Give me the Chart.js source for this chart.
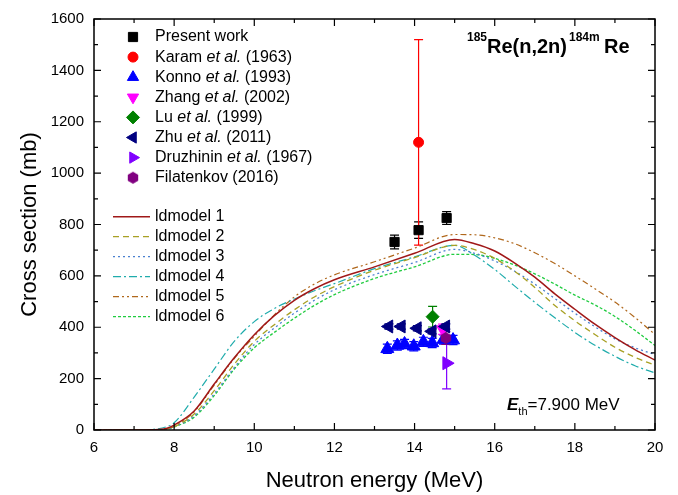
<!DOCTYPE html>
<html>
<head>
<meta charset="utf-8">
<title>185Re(n,2n)184mRe cross section</title>
<script src="https://cdn.jsdelivr.net/npm/chart.js@4.4.1/dist/chart.umd.min.js"></script>
<style>
  html, body { margin: 0; padding: 0; background: #fff; }
  #wrap { width: 678px; height: 495px; }
</style>
</head>
<body>
<div id="wrap"><canvas id="xs" width="678" height="495"></canvas></div>
<script>
const FONT = "'Liberation Sans', Arial, Helvetica, sans-serif";

// axis ticks
const xTicks = [6, 8, 10, 12, 14, 16, 18, 20];
const yTicks = [0, 200, 400, 600, 800, 1000, 1200, 1400, 1600];

// ldmodel curves (MeV, mb)
const modelEnergy = [6, 7, 7.5, 7.8, 8, 8.5, 9, 9.5, 10, 10.5, 11, 11.5, 12, 13, 14, 15, 15.5, 16, 16.5, 17, 17.5, 18, 18.5, 19, 19.5, 20];
const ldmodel1 = [0, 0, 1, 6, 19, 74, 179, 281, 371, 445, 505, 550, 585, 635, 688, 742, 725, 697, 650, 595, 530, 470, 412, 360, 313, 272];
const ldmodel2 = [0, 0, 1, 4, 13, 62, 153, 256, 345, 410, 468, 518, 558, 622, 671, 719, 702, 668, 618, 555, 485, 425, 372, 322, 283, 252];
const ldmodel3 = [0, 0, 1, 3, 12, 55, 141, 243, 333, 397, 455, 505, 546, 605, 652, 703, 688, 658, 618, 568, 512, 455, 402, 355, 320, 294];
const ldmodel4 = [0, 0, 3, 12, 28, 128, 237, 345, 422, 473, 510, 542, 570, 628, 674, 719, 680, 625, 560, 497, 437, 380, 330, 287, 250, 222];
const ldmodel5 = [0, 0, 1, 5, 14, 71, 175, 278, 365, 448, 518, 568, 604, 655, 708, 761, 760, 748, 725, 690, 648, 600, 550, 498, 438, 372];
const ldmodel6 = [0, 0, 1, 3, 12, 50, 134, 237, 320, 380, 435, 485, 527, 590, 635, 684, 683, 668, 642, 608, 568, 525, 487, 442, 388, 329];

// measurements (MeV, mb, +-mb)
const presentEnergy = [13.5, 14.1, 14.8];
const presentXs = [732, 778, 825];
const presentErr = [27, 32, 25];
const karamEnergy = [14.1];
const karamXs = [1120];
const karamErr = [400];
const konnoEnergy = [13.32, 13.57, 13.75, 13.98, 14.22, 14.44, 14.72, 14.96];
const konnoXs = [316, 329, 335, 326, 343, 339, 352, 350];
const konnoErr = [18, 18, 18, 18, 18, 18, 18, 18];
const zhangEnergy = [14.7];
const zhangXs = [392];
const zhangErr = [20];
const luEnergy = [14.45];
const luXs = [441];
const luErr = [40];
const zhuEnergy = [13.36, 13.67, 14.07, 14.44, 14.78];
const zhuXs = [403, 403, 396, 384, 403];
const zhuErr = [10, 10, 10, 10, 10];
const druzEnergy = [14.8];
const druzXs = [260];
const druzErr = [100];
const filEnergy = [14.78];
const filXs = [358];
const filErr = [25];

function pts(xs, ys) {
  return xs.map((x, i) => ({ x: x, y: ys[i] }));
}

// hexagon marker (not a built-in point style)
function hexagon(color, r) {
  const c = document.createElement('canvas');
  c.width = c.height = Math.ceil(r * 2 + 2);
  const g = c.getContext('2d');
  g.fillStyle = color;
  g.beginPath();
  for (let i = 0; i < 6; i++) {
    const a = Math.PI / 6 + i * Math.PI / 3;
    g.lineTo(c.width / 2 + r * Math.cos(a), c.height / 2 + r * Math.sin(a));
  }
  g.closePath();
  g.fill();
  return c;
}
const hexMarker = hexagon('#800080', 6);

const markerSets = [
  { label: 'Present work', e: presentEnergy, v: presentXs, err: presentErr, color: '#000000', style: 'rect', rot: 0, r: 6.5 },
  { label: 'Karam et al. (1963)', e: karamEnergy, v: karamXs, err: karamErr, color: '#ff0000', style: 'circle', rot: 0, r: 5 },
  { label: 'Konno et al. (1993)', e: konnoEnergy, v: konnoXs, err: konnoErr, color: '#0000ff', style: 'triangle', rot: 0, r: 7.5 },
  { label: 'Zhang et al. (2002)', e: zhangEnergy, v: zhangXs, err: zhangErr, color: '#ff00ff', style: 'triangle', rot: 180, r: 7 },
  { label: 'Lu et al. (1999)', e: luEnergy, v: luXs, err: luErr, color: '#008000', style: 'rectRot', rot: 0, r: 6.5 },
  { label: 'Zhu et al. (2011)', e: zhuEnergy, v: zhuXs, err: zhuErr, color: '#000080', style: 'triangle', rot: -90, r: 7.5 },
  { label: 'Druzhinin et al. (1967)', e: druzEnergy, v: druzXs, err: druzErr, color: '#8000ff', style: 'triangle', rot: 90, r: 7.5 },
  { label: 'Filatenkov (2016)', e: filEnergy, v: filXs, err: filErr, color: '#800080', style: hexMarker, rot: 0, r: 6 }
];

const modelSets = [
  { label: 'ldmodel 1', v: ldmodel1, color: '#a01818', dash: [], w: 1.5 },
  { label: 'ldmodel 2', v: ldmodel2, color: '#a8a024', dash: [6, 4], w: 1.3 },
  { label: 'ldmodel 3', v: ldmodel3, color: '#4a80d0', dash: [2, 3], w: 1.3 },
  { label: 'ldmodel 4', v: ldmodel4, color: '#20acac', dash: [8, 3, 2, 3], w: 1.2 },
  { label: 'ldmodel 5', v: ldmodel5, color: '#b0681c', dash: [6, 3, 2, 3, 2, 3], w: 1.2 },
  { label: 'ldmodel 6', v: ldmodel6, color: '#20cc40', dash: [3, 2], w: 1.3 }
];

const datasets = [];
markerSets.forEach((m, i) => {
  datasets.push({
    label: m.label,
    data: pts(m.e, m.v),
    errors: m.err,
    order: -i, // later entries on top
    pointStyle: m.style,
    rotation: m.rot,
    pointRadius: m.r,
    pointHoverRadius: m.r,
    backgroundColor: m.color,
    borderColor: m.color,
    borderWidth: 1,
    showLine: false
  });
});
modelSets.forEach(m => {
  datasets.push({
    label: m.label,
    data: pts(modelEnergy, m.v),
    order: 10,
    borderColor: m.color,
    borderWidth: m.w,
    borderDash: m.dash,
    pointRadius: 0,
    showLine: true,
    fill: false,
    cubicInterpolationMode: 'monotone'
  });
});

// vertical error bars with caps
const errorBars = {
  id: 'errorBars',
  beforeDatasetsDraw(chart) {
    const { ctx, scales: { x, y } } = chart;
    ctx.save();
    chart.data.datasets.forEach(ds => {
      if (!ds.errors) return;
      ctx.strokeStyle = ds.borderColor;
      ctx.lineWidth = 1.2;
      ds.data.forEach((p, i) => {
        const px = x.getPixelForValue(p.x);
        const top = y.getPixelForValue(p.y + ds.errors[i]);
        const bot = y.getPixelForValue(p.y - ds.errors[i]);
        ctx.beginPath();
        ctx.moveTo(px, top); ctx.lineTo(px, bot);
        ctx.moveTo(px - 4.5, top); ctx.lineTo(px + 4.5, top);
        ctx.moveTo(px - 4.5, bot); ctx.lineTo(px + 4.5, bot);
        ctx.stroke();
      });
    });
    ctx.restore();
  }
};

function richText(ctx, parts, x, y) {
  parts.forEach(p => {
    ctx.font = p.font;
    ctx.fillText(p.t, p.x !== undefined ? p.x : x, y + (p.dy || 0));
    x = (p.x !== undefined ? p.x : x) + ctx.measureText(p.t).width;
  });
}

// frame, inward ticks, axis titles, annotations, legends
const decorations = {
  id: 'decorations',
  afterDraw(chart) {
    const { ctx, chartArea: a, scales: { x, y } } = chart;
    ctx.save();
    ctx.strokeStyle = '#000';
    ctx.lineWidth = 1.5;
    ctx.strokeRect(a.left, a.top, a.right - a.left, a.bottom - a.top);

    ctx.lineWidth = 1.2;
    ctx.beginPath();
    for (let e = xTicks[0]; e <= xTicks[xTicks.length - 1]; e += 1) {
      const px = x.getPixelForValue(e);
      const len = xTicks.includes(e) ? 7 : 4;
      ctx.moveTo(px, a.bottom); ctx.lineTo(px, a.bottom - len);
      ctx.moveTo(px, a.top); ctx.lineTo(px, a.top + len);
    }
    for (let v = yTicks[0]; v <= yTicks[yTicks.length - 1]; v += 100) {
      const py = y.getPixelForValue(v);
      const len = yTicks.includes(v) ? 7 : 4;
      ctx.moveTo(a.left, py); ctx.lineTo(a.left + len, py);
      ctx.moveTo(a.right, py); ctx.lineTo(a.right - len, py);
    }
    ctx.stroke();

    ctx.fillStyle = '#000';
    ctx.textBaseline = 'alphabetic';
    // axis titles
    ctx.font = '22px ' + FONT;
    ctx.textAlign = 'center';
    ctx.fillText('Neutron energy (MeV)', (a.left + a.right) / 2, 487);
    ctx.save();
    ctx.translate(36, (a.top + a.bottom) / 2);
    ctx.rotate(-Math.PI / 2);
    ctx.fillText('Cross section (mb)', 0, 0);
    ctx.restore();

    // reaction label
    ctx.textAlign = 'left';
    richText(ctx, [
      { t: '185', font: 'bold 12px ' + FONT, dy: -12.5, x: 467 },
      { t: 'Re(n,2n)', font: 'bold 20px ' + FONT, x: 487 },
      { t: '184m', font: 'bold 12px ' + FONT, dy: -12.5, x: 569 },
      { t: 'Re', font: 'bold 20px ' + FONT, x: 604 }
    ], 467, 53);

    // threshold
    richText(ctx, [
      { t: 'E', font: 'bold italic 17px ' + FONT, x: 507 },
      { t: 'th', font: '11px ' + FONT, dy: 5 },
      { t: '=7.900 MeV', font: '17px ' + FONT }
    ], 507, 410);

    // legend: measurements
    const mx = 133, tx = 155;
    markerSets.forEach((m, i) => {
      const ly = 37 + i * 20.1;
      ctx.fillStyle = m.color;
      ctx.strokeStyle = m.color;
      ctx.lineWidth = 1;
      ctx.setLineDash([]);
      if (typeof m.style === 'string') {
        Chart.helpers.drawPoint(ctx, { pointStyle: m.style, rotation: m.rot, radius: Math.min(m.r, 6.5), borderWidth: 1 }, mx, ly);
      } else {
        ctx.drawImage(m.style, mx - m.style.width / 2, ly - m.style.height / 2);
      }
      ctx.fillStyle = '#000';
      ctx.textBaseline = 'middle';
      const parts = m.label.split('et al.');
      if (parts.length === 2) {
        richText(ctx, [
          { t: parts[0], font: '16px ' + FONT },
          { t: 'et al.', font: 'italic 16px ' + FONT },
          { t: parts[1], font: '16px ' + FONT }
        ], tx, ly);
      } else {
        ctx.font = '16px ' + FONT;
        ctx.fillText(m.label, tx, ly);
      }
    });

    // legend: models
    modelSets.forEach((m, i) => {
      const ly = 216.7 + i * 20;
      ctx.strokeStyle = m.color;
      ctx.lineWidth = m.w;
      ctx.setLineDash(m.dash);
      ctx.beginPath();
      ctx.moveTo(113, ly); ctx.lineTo(150, ly);
      ctx.stroke();
      ctx.setLineDash([]);
      ctx.fillStyle = '#000';
      ctx.font = '16px ' + FONT;
      ctx.textBaseline = 'middle';
      ctx.fillText(m.label, tx, ly);
    });
    ctx.restore();
  }
};

new Chart(document.getElementById('xs'), {
  type: 'scatter',
  data: { datasets: datasets },
  options: {
    responsive: false,
    animation: false,
    devicePixelRatio: 1,
    layout: { padding: { left: 0, right: 23, top: 13, bottom: 0 } },
    scales: {
      x: {
        type: 'linear',
        min: 6,
        max: 20,
        afterBuildTicks: s => { s.ticks = xTicks.map(v => ({ value: v })); },
        afterFit: s => { s.height = 65; },
        grid: { display: false, drawTicks: false },
        border: { display: false },
        ticks: { color: '#000', padding: 9, font: { family: FONT, size: 15 }, callback: v => String(v) }
      },
      y: {
        type: 'linear',
        min: 0,
        max: 1600,
        afterBuildTicks: s => { s.ticks = yTicks.map(v => ({ value: v })); },
        afterFit: s => { s.width = 94; },
        grid: { display: false, drawTicks: false },
        border: { display: false },
        ticks: { color: '#000', padding: 10, font: { family: FONT, size: 15 }, callback: v => String(v) }
      }
    },
    plugins: {
      legend: { display: false },
      tooltip: { enabled: false }
    }
  },
  plugins: [errorBars, decorations]
});
</script>
</body>
</html>
